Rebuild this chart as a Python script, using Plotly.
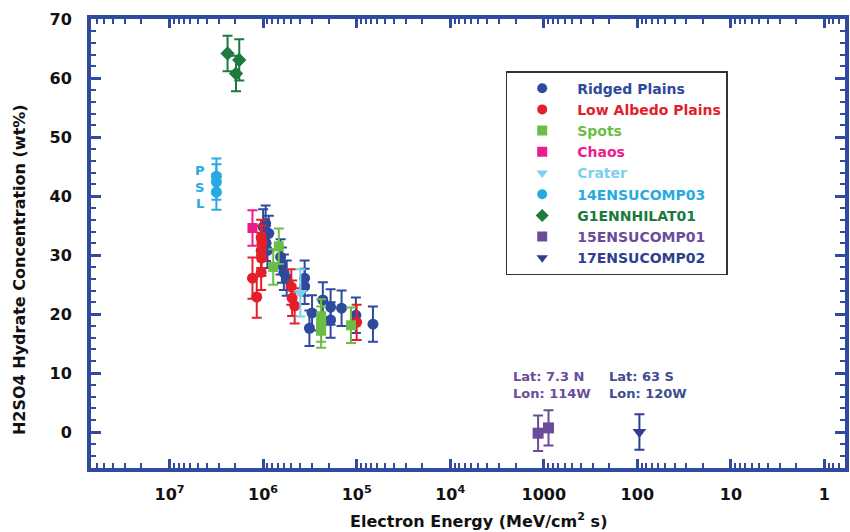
import plotly.graph_objects as go

# ---------------- data ----------------
ridged_E = [9.4e5, 1.0e6, 8.7e5, 9.3e5, 9.0e5, 6.5e5, 6.3e5, 6.0e5, 5.6e5, 3.6e5, 3.6e5,
            3.2e5, 3.0e5, 2.3e5, 1.9e5, 1.9e5, 1.45e5, 1.02e5, 6.7e4]
ridged_C = [35.4, 34.8, 33.7, 32.0, 30.8, 29.7, 28.3, 27.1, 26.1, 26.1, 24.7,
            17.6, 20.2, 22.4, 21.2, 19.0, 21.0, 19.8, 18.3]
ridged_err = [3, 3, 3, 3, 3, 3, 3, 3, 3, 3, 3, 3, 3, 3, 3, 3, 3, 3, 3]

lowalb_E = [1.05e6, 1.03e6, 1.05e6, 1.04e6, 1.05e6, 1.3e6, 1.17e6, 5.0e5, 4.9e5, 4.6e5, 1.0e5]
lowalb_C = [33.0, 32.0, 30.8, 29.5, 27.1, 26.1, 22.9, 24.6, 22.7, 21.4, 18.6]
lowalb_err = [3, 3, 3, 3, 3, 3.5, 3.5, 3, 3, 3, 3]

spots_E = [6.8e5, 7.8e5, 2.4e5, 2.4e5, 2.4e5, 1.15e5]
spots_C = [31.5, 28.0, 19.5, 18.3, 17.3, 18.1]
spots_err = [3, 3, 3, 3, 3, 3]

chaos_E = [1.3e6]
chaos_C = [34.6]
chaos_err = [3]

crater_E = [4.0e5]
crater_C = [23.6]
crater_err = [4]

comp14_E = [3.16e6, 3.16e6, 3.16e6]
comp14_C = [43.4, 42.4, 40.7]
comp14_err = [3, 3, 3]

g1_E = [2.4e6, 1.8e6, 1.95e6]
g1_C = [64.2, 63.1, 60.8]
g1_err = [3, 3.5, 3]

comp15_E = [1150, 890]
comp15_C = [-0.2, 0.7]
comp15_err = [3, 3]

comp17_E = [95]
comp17_C = [0.0]
comp17_err = [3]

x_tickvals = [1e7, 1e6, 1e5, 1e4, 1000, 100, 10, 1]
x_ticktext = ["10<sup>7</sup>", "10<sup>6</sup>", "10<sup>5</sup>", "10<sup>4</sup>",
              "1000", "100", "10", "1"]
y_tickvals = [0, 10, 20, 30, 40, 50, 60, 70]

# ---------------- styling ----------------
AX = "#2f4a9e"
FONT = "DejaVu Sans"

series = [
    # name, E, C, err, color, symbol, size
    ("Ridged Plains", ridged_E, ridged_C, ridged_err, "#2e4a9e", "circle", 11),
    ("Low Albedo Plains", lowalb_E, lowalb_C, lowalb_err, "#e3202a", "circle", 11),
    ("Spots", spots_E, spots_C, spots_err, "#6cbd45", "square", 10),
    ("Chaos", chaos_E, chaos_C, chaos_err, "#ec1c8c", "square", 10),
    ("Crater", crater_E, crater_C, crater_err, "#7fd0ea", "triangle-down", 12),
    ("14ENSUCOMP03", comp14_E, comp14_C, comp14_err, "#27aae1", "circle", 11),
    ("G1ENNHILAT01", g1_E, g1_C, g1_err, "#1b7a3e", "diamond", 11),
    ("15ENSUCOMP01", comp15_E, comp15_C, comp15_err, "#6b4c9a", "square", 11),
    ("17ENSUCOMP02", comp17_E, comp17_C, comp17_err, "#2e3f91", "triangle-down", 12),
]

fig = go.Figure()

# data traces (drawn without legend)
draw_order = [5, 6, 3, 0, 1, 2, 4, 7, 8]
for i in draw_order:
    name, E, C, err, col, sym, size = series[i]
    fig.add_trace(go.Scatter(
        x=E, y=C, mode="markers", showlegend=False,
        marker=dict(color=col, symbol=sym, size=size, line=dict(width=0)),
        error_y=dict(type="data", array=err, visible=True, color=col,
                     thickness=2, width=5),
    ))

# legend-only traces
for name, E, C, err, col, sym, size in series:
    fig.add_trace(go.Scatter(
        x=[None], y=[None], mode="markers",
        name=f"<span style='color:{col}'>{name}</span>",
        marker=dict(color=col, symbol=sym, size=10),
    ))

minor_x = []
for d in range(-1, 9):
    for k in range(2, 10):
        minor_x.append(k * 10 ** d)

fig.update_xaxes(
    type="log", range=[7.84, -0.22], autorange=False,
    tickmode="array", tickvals=x_tickvals, ticktext=x_ticktext,
    ticks="inside", ticklen=9, tickwidth=3, tickcolor=AX,
    minor=dict(tickmode="array", tickvals=minor_x, ticks="inside",
               ticklen=5, tickwidth=2, tickcolor=AX),
    showline=True, linewidth=4, linecolor=AX, mirror="ticks",
    showgrid=False, zeroline=False,
    tickfont=dict(family=FONT, size=16, color="#111", weight="bold"),
    ticklabelstandoff=9,
)
fig.update_yaxes(
    range=[-6.1, 70.05], autorange=False,
    tickmode="array", tickvals=y_tickvals,
    ticks="inside", ticklen=10, tickwidth=3, tickcolor=AX,
    minor=dict(dtick=2, tick0=0, ticks="inside", ticklen=5, tickwidth=2, tickcolor=AX),
    showline=True, linewidth=4, linecolor=AX, mirror="ticks",
    showgrid=False, zeroline=False,
    tickfont=dict(family=FONT, size=16, color="#111", weight="bold"),
    ticklabelstandoff=12,
)

annotations = [
    dict(text="H2SO4 Hydrate Concentration (wt%)", xref="paper", yref="paper",
         x=-0.094, y=0.441, textangle=-90, showarrow=False,
         xanchor="center", yanchor="middle",
         font=dict(family=FONT, size=16, color="#111", weight="bold")),
    dict(text="Electron Energy (MeV/cm<sup>2</sup> s)", xref="paper", yref="paper",
         x=0.5145, y=-0.116, showarrow=False, xanchor="center", yanchor="middle",
         font=dict(family=FONT, size=16, color="#111", weight="bold")),
    dict(text="Lat: 7.3 N<br>Lon: 114W", x=3.35, y=11.0, xref="x", yref="y",
         showarrow=False, xanchor="left", yanchor="top", align="left",
         font=dict(family=FONT, size=13, color="#6b4c9a", weight="bold")),
    dict(text="Lat: 63 S<br>Lon: 120W", x=2.32, y=11.0, xref="x", yref="y",
         showarrow=False, xanchor="left", yanchor="top", align="left",
         font=dict(family=FONT, size=13, color="#3f4d8f", weight="bold")),
]
for lab, yv in [("P", 44.3), ("S", 41.5), ("L", 38.8)]:
    annotations.append(dict(text=lab, x=6.68, y=yv, xref="x", yref="y",
                            showarrow=False, xanchor="center", yanchor="middle",
                            font=dict(family=FONT, size=13, color="#27aae1", weight="bold")))

fig.update_layout(
    width=850, height=532,
    margin=dict(l=91, r=1, t=19, b=64),
    paper_bgcolor="white", plot_bgcolor="white",
    annotations=annotations,
    legend=dict(x=0.55, y=0.884, xanchor="left", yanchor="top",
                bgcolor="white", bordercolor="#333", borderwidth=1.5,
                itemwidth=60, entrywidth=232, entrywidthmode="pixels",
                font=dict(family=FONT, size=14, weight="bold")),
)

fig.write_html("out.html")
